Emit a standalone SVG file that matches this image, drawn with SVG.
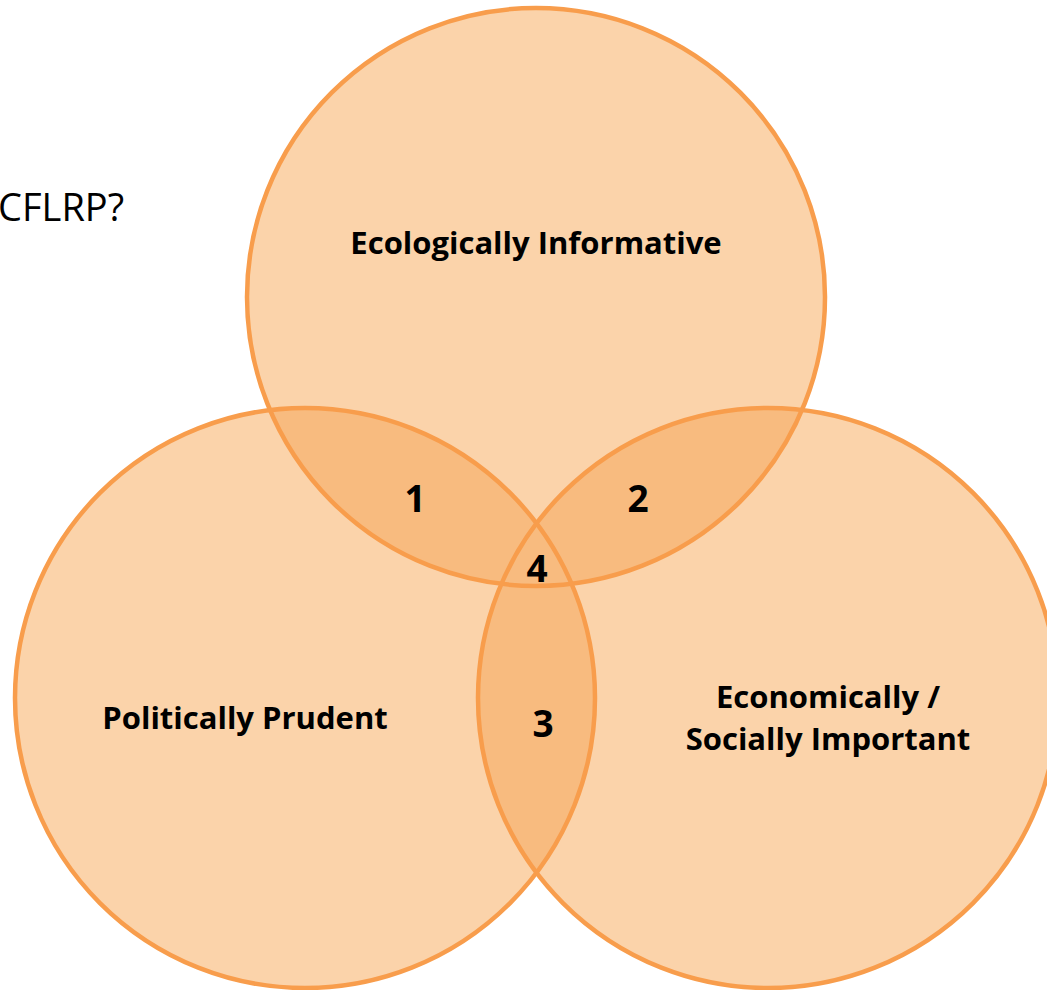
<svg xmlns="http://www.w3.org/2000/svg" width="1047" height="990" viewBox="0 0 1047 990">
<style>
.fill{fill:#FBD3AA;stroke:none}
.ov{fill:#F8BB7F;stroke:none}
.ring{fill:none;stroke:#F89D4C;stroke-width:4.5}
.lbl{font-family:"Open Sans",Lato,sans-serif;font-weight:bold;font-size:31px;fill:#000;text-anchor:middle}
.num{font-family:"Open Sans",Lato,sans-serif;font-weight:bold;font-size:37px;fill:#000;text-anchor:middle}
.q{font-family:"Open Sans",Lato,sans-serif;font-size:38px;fill:#000}
</style>
<defs>
<clipPath id="cTop"><circle cx="536" cy="297" r="289"/></clipPath>
<clipPath id="cLeft"><circle cx="305" cy="698" r="290"/></clipPath>
</defs>
<rect width="1047" height="990" fill="#fff"/>
<text class="q" x="-2" y="221">CFLRP?</text>
<g id="fills">
<circle class="fill" cx="536" cy="297" r="289"/>
<circle class="fill" cx="305" cy="698" r="290"/>
<circle class="fill" cx="768" cy="698" r="290"/>
<g clip-path="url(#cTop)"><circle class="ov" cx="305" cy="698" r="290"/><circle class="ov" cx="768" cy="698" r="290"/></g>
<g clip-path="url(#cLeft)"><circle class="ov" cx="768" cy="698" r="290"/></g>
</g>
<g id="top-circle">
<circle class="ring" cx="536" cy="297" r="289"/>
<text class="lbl" x="536" y="254">Ecologically Informative</text>
</g>
<g id="left-circle">
<circle class="ring" cx="305" cy="698" r="290"/>
<text class="lbl" x="245" y="729">Politically Prudent</text>
</g>
<g id="right-circle">
<circle class="ring" cx="768" cy="698" r="290"/>
<text class="lbl" x="828" y="708">Economically /</text>
<text class="lbl" x="828" y="750">Socially Important</text>
</g>
<g id="region-1"><text class="num" x="415" y="512">1</text></g>
<g id="region-2"><text class="num" x="638" y="512">2</text></g>
<g id="region-3"><text class="num" x="543" y="737">3</text></g>
<g id="region-4"><text class="num" x="537" y="582">4</text></g>
</svg>
